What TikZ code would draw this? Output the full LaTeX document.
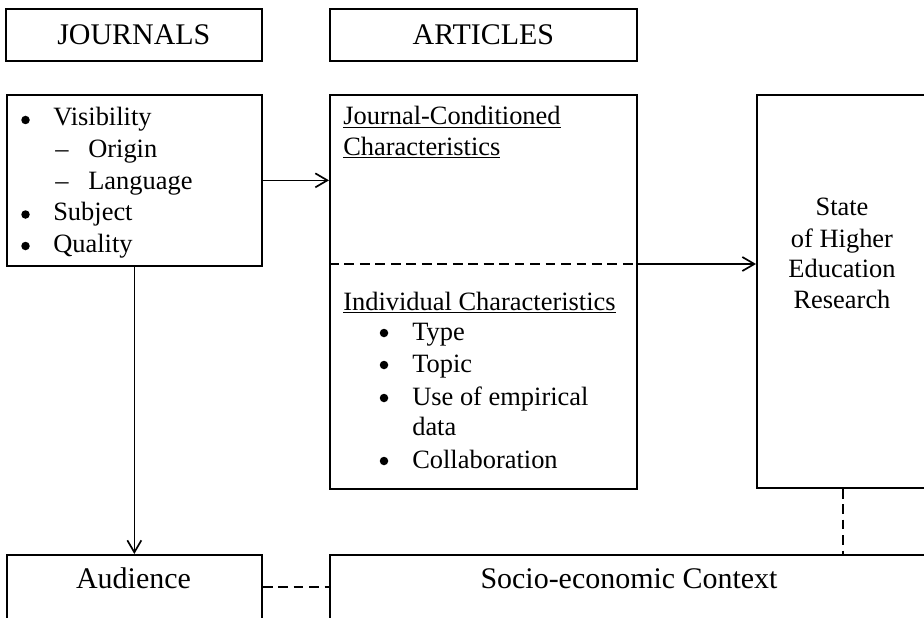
\documentclass[tikz,border=0pt]{standalone}
\usepackage{fontspec}
\setmainfont{Liberation Serif}
\usetikzlibrary{arrows.meta}
\usetikzlibrary{math}

\newcommand{\pxl}{0.025cm}

\tikzset{
  box/.style={draw, line width=1.2pt, inner sep=0pt, anchor=north west},
  head/.style={font=\fontsize{21.3}{25}\selectfont},
  item/.style={anchor=base west, inner sep=0pt, font=\fontsize{18.8}{22}\selectfont},
  dot/.style={circle, fill, inner sep=0pt, minimum size=8.5*\pxl},
  link/.style={line width=1.2pt, -{Straight Barb[length=0.3cm, width=0.35cm, line width=1.2pt]}},
  dashline/.style={line width=1.2pt, dash pattern=on 7pt off 4pt},
}

\begin{document}
\begin{tikzpicture}[x=0.025cm, y=-0.025cm]
\tikzmath{
\bl=31.5;
}
\useasboundingbox (0,0) rectangle (924,617);
\clip (0,0) rectangle (924,617);

%headings
\node[box, head, minimum width=256*\pxl, minimum height=52*\pxl] (jtitle) at (5,8) {JOURNALS};
\node[box, head, minimum width=307*\pxl, minimum height=52*\pxl] (atitle) at (329,8) {ARTICLES};

%boxes
\node[box, minimum width=255*\pxl, minimum height=171*\pxl] (jrn) at (6,94) {};
\node[box, minimum width=307*\pxl, minimum height=394*\pxl] (art) at (329,94) {};
\node[box, minimum width=172*\pxl, minimum height=393*\pxl] (sher) at (756,94) {};
\node[box, minimum width=255*\pxl, minimum height=80*\pxl] (aud) at (6,554) {};
\node[box, minimum width=600*\pxl, minimum height=80*\pxl] (soc) at (329,554) {};

%journal list
\node[dot] (b1) at (25.5,120) {};
\node[item] (vis) at (53,126) {Visibility};
\node[item] (d1) at (55,126+\bl) {--};
\node[item] (ori) at (88,126+\bl) {Origin};
\node[item] (d2) at (55,126+2*\bl) {--};
\node[item] (lan) at (88,126+2*\bl) {Language};
\node[dot] (b2) at (25.5,120+3*\bl) {};
\node[item] (sub) at (53,126+3*\bl) {Subject};
\node[dot] (b3) at (25.5,120+4*\bl) {};
\node[item] (qua) at (53,126+4*\bl) {Quality};

%article characteristics
\node[item] (jc1) at (343,125) {\underline{Journal-Conditioned}};
\node[item] (jc2) at (343,155) {\underline{Characteristics}};
\node[item] (ind) at (343,310) {\underline{Individual Characteristics}};
\node[dot] (b4) at (384,333) {};
\node[item] (typ) at (412,340) {Type};
\node[dot] (b5) at (384,365) {};
\node[item] (top) at (412,372) {Topic};
\node[dot] (b6) at (384,398) {};
\node[item] (emp) at (412,405) {Use of empirical};
\node[item] (dat) at (412,435) {data};
\node[dot] (b7) at (384,461) {};
\node[item] (col) at (412,468) {Collaboration};

%state of research
\node[item, anchor=base] (st1) at (842,215) {State};
\node[item, anchor=base] (st2) at (842,247) {of Higher};
\node[item, anchor=base] (st3) at (842,277) {Education};
\node[item, anchor=base] (st4) at (842,308) {Research};

%bottom row
\node[head, anchor=base, inner sep=0pt] (audt) at (133.5,588) {Audience};
\node[head, anchor=base, inner sep=0pt] (soct) at (629,588) {Socio-economic Context};

%connectors
\coordinate (div) at (329,264);
\coordinate (gap) at (295,587);
\draw[link] (jrn.east) -- (art.west |- jrn.east);
\draw[link] (jrn.south) -- (aud.north);
\draw[dashline] (div) -- (art.east |- div);
\draw[link] (art.east |- div) -- (sher.west |- div);
\draw[dashline] (aud.east |- gap) -- (soc.west |- gap);
\draw[dashline] (sher.south) -- (soc.north -| sher.south);
\end{tikzpicture}
\end{document}
